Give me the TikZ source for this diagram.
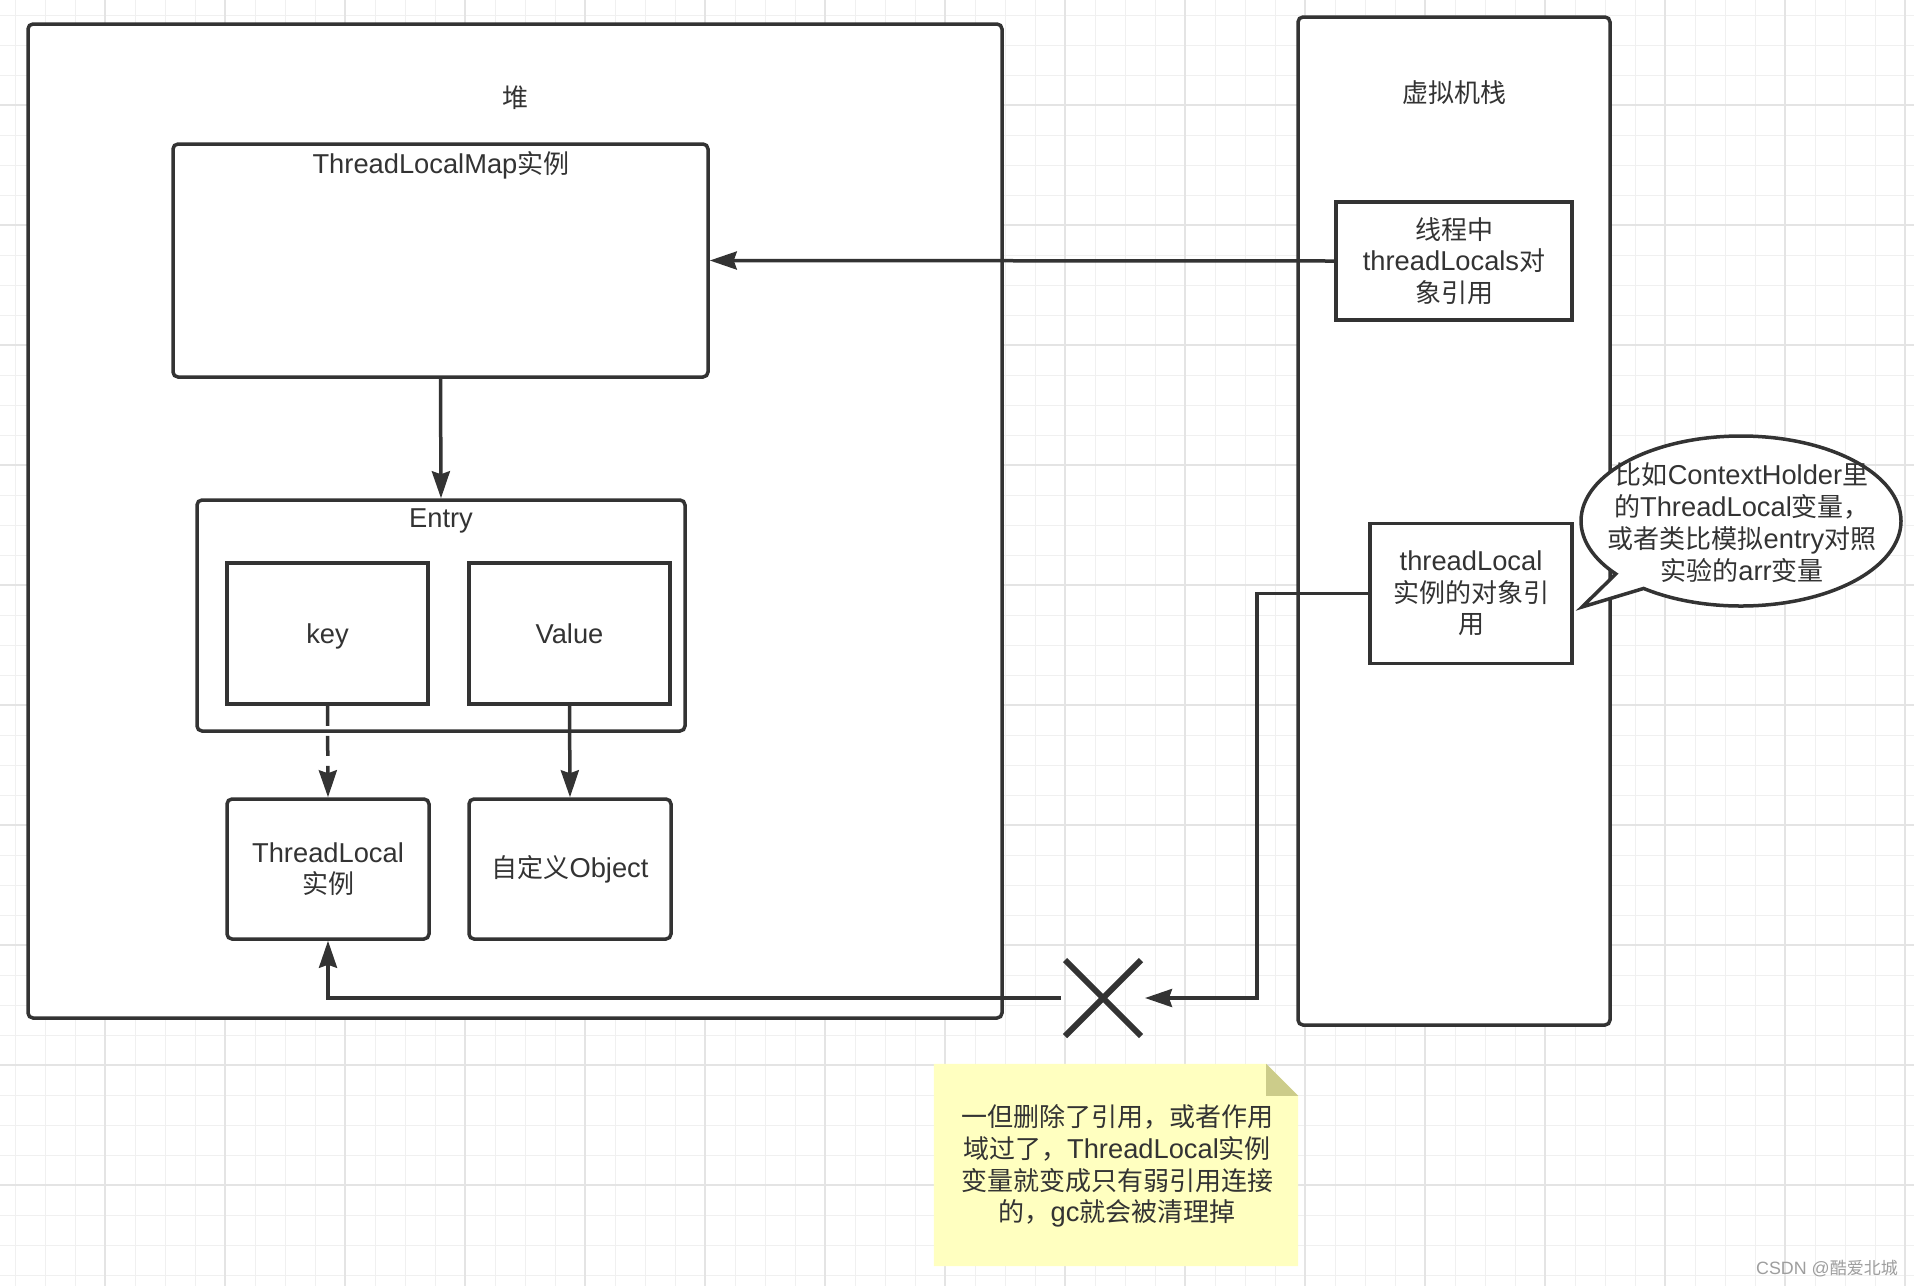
\documentclass[tikz,border=0pt]{standalone}
\usepackage{fontspec}
\setmainfont{Noto Sans CJK SC}
\newfontfamily\lat[Scale=1.05]{Liberation Sans}
\usetikzlibrary{arrows.meta,shapes.misc,shapes.callouts,calc}
\definecolor{ink}{HTML}{333333}
\definecolor{gridminor}{HTML}{F0F0F0}
\definecolor{gridmajor}{HTML}{E4E4E4}
\definecolor{notefill}{HTML}{FFFFC0}
\definecolor{notefold}{HTML}{CCCC8A}
\begin{document}
\begin{tikzpicture}[x=1pt,y=-1pt,
  txt/.style={font=\fontsize{26}{31.5}\selectfont, text=ink, align=center, inner sep=0pt},
  rbox/.style={draw=ink, line width=3.5pt, rounded corners=5pt, fill=white, inner sep=0pt},
  sbox/.style={draw=ink, line width=3.5pt, fill=white, inner sep=0pt},
  conn/.style={draw=ink, line width=3.5pt, -{Stealth[length=27pt,width=18pt,inset=3pt]}},
]
\useasboundingbox (0,0) rectangle (1914,1286);
\fill[white] (0,0) rectangle (1914,1286);
\foreach \x in {15,45,...,1905} \draw[gridminor, line width=1pt] (\x,0) -- (\x,1286);
\foreach \y in {15,45,...,1285} \draw[gridminor, line width=1pt] (0,\y) -- (1914,\y);
\foreach \x in {105,225,...,1905} \draw[gridmajor, line width=1.5pt] (\x,0) -- (\x,1286);
\foreach \y in {105,225,...,1285} \draw[gridmajor, line width=1.5pt] (0,\y) -- (1914,\y);

% containers
\node[rbox, minimum width=974pt, minimum height=994pt] (heap) at (515,521) {};
\node[rbox, minimum width=312pt, minimum height=1008pt] (vm) at (1454,521) {};
\node[txt] (heapl) at (515,98) {堆};
\node[txt] (vml) at (1454,93) {虚拟机栈};

% heap content
\node[rbox, minimum width=535pt, minimum height=233pt] (tlm) at (440.5,260.5) {};
\node[txt] (tlml) at (441,165) {{\lat ThreadLocalMap}实例};
\node[rbox, minimum width=488pt, minimum height=231pt] (entry) at (441,615.5) {};
\node[txt] (entryl) at (441,521) {\lat Entry};
\node[sbox, txt, minimum width=201pt, minimum height=141pt] (key) at (327.5,633.5) {\raisebox{0pt}[\height][0pt]{\lat key}};
\node[sbox, txt, minimum width=201pt, minimum height=141pt] (val) at (569.5,633.5) {\lat Value};
\node[rbox, txt, minimum width=202pt, minimum height=140pt] (tli) at (328,869) {{\lat ThreadLocal}\\实例};
\node[rbox, txt, minimum width=202pt, minimum height=140pt] (obj) at (570,869) {自定义{\lat Object}};

% stack content
\node[sbox, txt, minimum width=236pt, minimum height=118pt] (vt) at (1454,261) {线程中\\{\lat threadLocals}对\\象引用};
\node[sbox, txt, minimum width=202pt, minimum height=140pt] (tlr) at (1471,593.5) {{\lat threadLocal}\\实例的对象引\\用};

% callout
\coordinate (cotip) at (1582,607);
\node[ellipse callout, draw=ink, line width=3.5pt, fill=white, minimum width=320pt, minimum height=170pt, inner sep=0pt, callout absolute pointer={(cotip)}, callout pointer arc=14] (co) at (1741,521) {};
\node[txt, font=\fontsize{26}{32}\selectfont] (cot) at (1742,523) {比如{\lat ContextHolder}里\\的{\lat ThreadLocal}变量，\\或者类比模拟{\lat entry}对照\\实验的{\lat arr}变量};

% cross
\node[cross out, draw=ink, line width=6pt, minimum size=76pt, inner sep=0pt, outer sep=0pt] (xm) at (1103,998) {};

% note
\node[minimum width=364pt, minimum height=202pt, inner sep=0pt] (note) at (1116,1165) {};
\fill[notefill] (note.south west) -- (note.north west) -- ($(note.north east)+(-32,0)$) -- ($(note.north east)+(0,32)$) -- (note.south east) -- cycle;
\fill[notefold] ($(note.north east)+(-32,0)$) -- ($(note.north east)+(-32,32)$) -- ($(note.north east)+(0,32)$) -- cycle;
\node[txt, font=\fontsize{26}{31.7}\selectfont] (notet) at (1117,1166) {一但删除了引用，或者作用\\域过了，{\lat ThreadLocal}实例\\变量就变成只有弱引用连接\\的，{\lat gc}就会被清理掉};

% connectors
\draw[conn] (vt.west) -- (tlm.east);
\draw[conn] (tlm.south) -- (entry.north);
\draw[conn, dash pattern=on 20pt off 10pt] (key.south) -- (tli.north);
\draw[conn] (val.south) -- (obj.north);
\coordinate (bend) at (1257,593.5);
\draw[conn] (tlr.west) -- (bend) |- ($(xm.east)+(4,0)$);
\draw[conn] ($(xm.west)+(-4,0)$) -| (tli.south);

% watermark
\node[font=\fontsize{17}{20}\selectfont, text=black!38, anchor=east, inner sep=0pt] (wm) at (1898,1269) {{\lat CSDN @}酷爱北城};
\end{tikzpicture}
\end{document}
